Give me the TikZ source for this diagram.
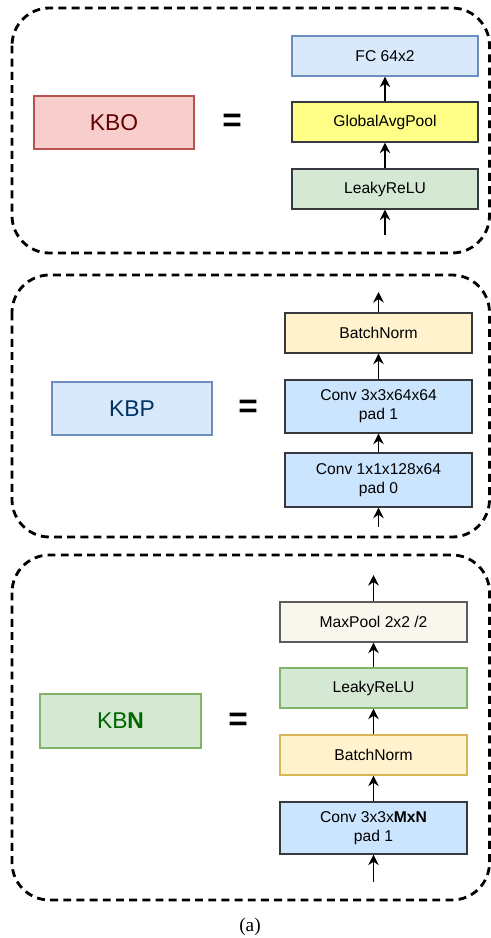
\documentclass[tikz,border=0pt]{standalone}
\usepackage{fontspec}
\setmainfont{Liberation Sans}
\newfontfamily\capfont{Liberation Serif}
\usetikzlibrary{arrows.meta}

\definecolor{edgedark}{HTML}{36393D}
\definecolor{edgegrey}{HTML}{5C5C5C}
\definecolor{bluefill}{HTML}{DAE8FC}
\definecolor{blueedge}{HTML}{6C8EBF}
\definecolor{convfill}{HTML}{CCE5FF}
\definecolor{yelfill}{HTML}{FFFF88}
\definecolor{greenfill}{HTML}{D5E8D4}
\definecolor{greenedge}{HTML}{82B366}
\definecolor{bnfill}{HTML}{FFF2CC}
\definecolor{bnedge}{HTML}{D6B656}
\definecolor{poolfill}{HTML}{F9F7ED}
\definecolor{redfill}{HTML}{F8CECC}
\definecolor{rededge}{HTML}{B85450}

\tikzset{
    blk/.style={draw=edgedark, line width=0.7pt, minimum width=3.72cm, minimum height=0.8cm,
        inner sep=0pt, align=center, font=\fontsize{8.9}{10.8}\selectfont},
    tallblk/.style={blk, minimum height=1.06cm},
    lbl/.style={line width=0.6pt, minimum width=3.2cm, minimum height=1.06cm,
        inner sep=0pt, font=\fontsize{13}{15}\selectfont},
    eqsign/.style={font=\fontsize{19}{19}\bfseries\selectfont},
    grp/.style={line width=1.6pt, dash pattern=on 4.5pt off 3pt, rounded corners=0.75cm},
    flow/.style={line width=1.1pt, -{Stealth[length=6pt,width=6pt,inset=2pt]}},
    feed/.style={flow, line width=0.7pt},
}

\begin{document}
\begin{tikzpicture}
    \useasboundingbox (0,0) rectangle (9.8,-18.76);

    % output block
    \draw[grp] (0.24,-0.16) rectangle (9.79,-5.06);
    \node[lbl, draw=rededge, fill=redfill, text={rgb,255:red,102;green,0;blue,0}] (kbo) at (2.28,-2.45) {KBO};
    \node[eqsign] (eqo) at (4.64,-2.46) {=};
    \node[blk, draw=blueedge, fill=bluefill] (fc) at (7.7,-1.12) {FC 64x2};
    \node[blk, fill=yelfill] (gap) at (7.7,-2.44) {GlobalAvgPool};
    \node[blk, fill=greenfill] (relu1) at (7.7,-3.78) {LeakyReLU};
    \coordinate (in1) at (7.7,-4.7);
    \draw[feed] (in1) to (relu1.south);
    \draw[flow] (relu1.north) to (gap.south);
    \draw[flow] (gap.north) to (fc.south);

    % projection block
    \draw[grp] (0.24,-5.5) rectangle (9.79,-10.74);
    \node[lbl, draw=blueedge, fill=bluefill, text={rgb,255:red,0;green,51;blue,102}] (kbp) at (2.64,-8.17) {KBP};
    \node[eqsign] (eqp) at (4.96,-8.18) {=};
    \node[blk, fill=bnfill, minimum width=3.74cm] (bn2) at (7.57,-6.66) {BatchNorm};
    \node[tallblk, fill=convfill, minimum width=3.74cm] (conv3) at (7.57,-8.13) {Conv 3x3x64x64\\pad 1};
    \node[tallblk, fill=convfill, minimum width=3.74cm, minimum height=1.08cm] (conv1) at (7.57,-9.6) {Conv 1x1x128x64\\pad 0};
    \coordinate (in2) at (7.57,-10.54);
    \coordinate (out2) at (7.57,-5.84);
    \draw[feed] (in2) to (conv1.south);
    \draw[flow] (conv1.north) to (conv3.south);
    \draw[flow] (conv3.north) to (bn2.south);
    \draw[flow] (bn2.north) to (out2);

    % N-th block
    \draw[grp] (0.24,-11.1) rectangle (9.79,-18.0);
    \node[lbl, draw=greenedge, fill=greenfill, text={rgb,255:red,0;green,102;blue,0}, minimum width=3.22cm, minimum height=1.08cm] (kbn) at (2.41,-14.42) {KB\textbf{N}};
    \node[eqsign] (eqn) at (4.76,-14.44) {=};
    \node[blk, draw=edgegrey, fill=poolfill, minimum width=3.74cm] (pool) at (7.47,-12.44) {MaxPool 2x2 /2};
    \node[blk, draw=greenedge, fill=greenfill, minimum width=3.74cm] (relu3) at (7.47,-13.76) {LeakyReLU};
    \node[blk, draw=bnedge, fill=bnfill, minimum width=3.74cm] (bn3) at (7.47,-15.1) {BatchNorm};
    \node[tallblk, fill=convfill, minimum width=3.74cm, minimum height=1.04cm] (convn) at (7.47,-16.56) {Conv 3x3x\textbf{MxN}\\pad 1};
    \coordinate (in3) at (7.47,-17.64);
    \coordinate (out3) at (7.47,-11.5);
    \draw[feed] (in3) to (convn.south);
    \draw[flow] (convn.north) to (bn3.south);
    \draw[flow] (bn3.north) to (relu3.south);
    \draw[flow] (relu3.north) to (pool.south);
    \draw[flow] (pool.north) to (out3);

    \node[font=\capfont\fontsize{11}{13}\selectfont] (cap) at (5.0,-18.54) {(a)};
\end{tikzpicture}
\end{document}
